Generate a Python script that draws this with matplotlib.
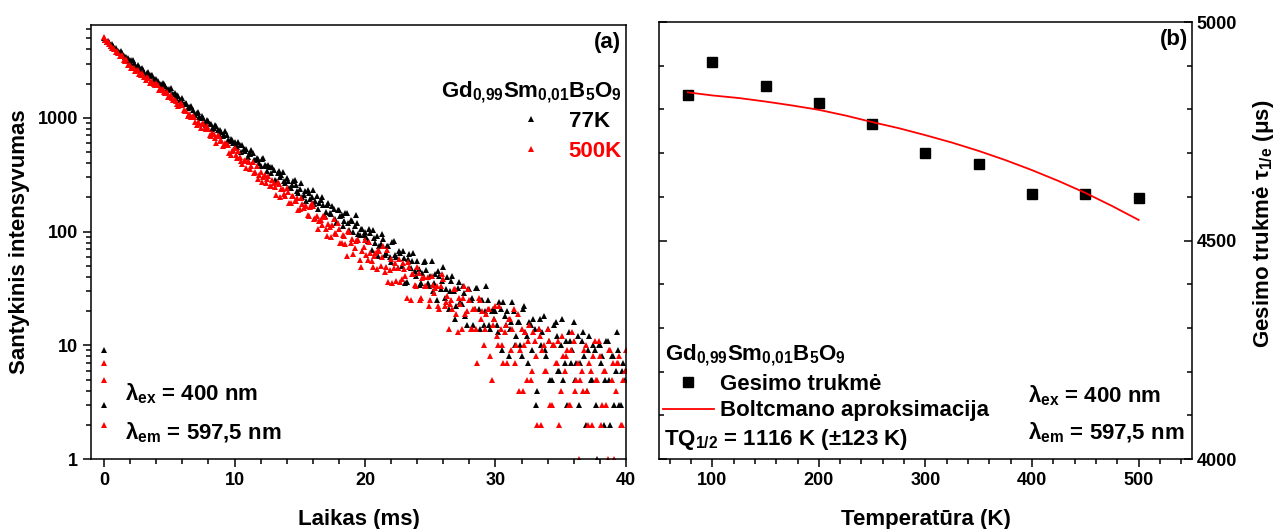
import numpy as np
import matplotlib
matplotlib.use('Agg')
import matplotlib.pyplot as plt
from matplotlib.ticker import MultipleLocator, LogLocator, NullFormatter

plt.rcParams['font.family'] = ['Liberation Sans', 'DejaVu Sans']
plt.rcParams['font.weight'] = 'bold'
plt.rcParams['axes.labelweight'] = 'bold'
plt.rcParams['mathtext.default'] = 'regular'
plt.rcParams['axes.linewidth'] = 1.1

# --- luminescence decay, one channel every 0.1 ms (rows of 1 ms) ---
dt = 0.1
counts_77 = [
    5024, 4836, 4681, 4763, 4612, 4307, 4457, 4255, 4111, 4110,
    3816, 3849, 3797, 3851, 3710, 3473, 3435, 3437, 3373, 3211,
    3110, 3242, 3204, 3009, 2943, 2805, 2891, 2827, 2673, 2740,
    2644, 2436, 2394, 2499, 2505, 2351, 2358, 2385, 2208, 2150,
    2204, 2115, 1987, 1963, 1985, 2024, 2001, 1908, 1798, 1756,
    1779, 1835, 1631, 1627, 1641, 1498, 1595, 1541, 1445, 1448,
    1498, 1323, 1328, 1360, 1212, 1242, 1254, 1260, 1165, 1060,
    1064, 1106, 1116, 1016, 991, 1036, 998, 910, 872, 951,
    937, 882, 875, 794, 814, 864, 853, 775, 724, 774,
    758, 688, 704, 765, 709, 641, 624, 648, 641, 606,
    613, 577, 554, 608, 582, 502, 581, 535, 510, 533,
    453, 482, 483, 521, 490, 424, 428, 445, 438, 397,
    379, 439, 441, 386, 376, 339, 384, 373, 330, 367,
    346, 283, 281, 329, 342, 299, 312, 332, 281, 270,
    298, 276, 241, 241, 258, 281, 282, 256, 226, 218,
    235, 266, 202, 211, 228, 184, 230, 218, 193, 203,
    232, 175, 184, 205, 158, 177, 190, 200, 171, 138,
    148, 170, 180, 147, 144, 167, 157, 128, 119, 155,
    154, 138, 139, 111, 124, 147, 147, 120, 103, 127,
    124, 100, 111, 139, 120, 96, 93, 105, 105, 94,
    100, 89, 82, 106, 98, 69, 103, 87, 79, 91,
    61, 75, 78, 96, 86, 62, 65, 75, 74, 60,
    54, 81, 83, 62, 60, 48, 68, 65, 50, 67,
    59, 35, 36, 57, 64, 48, 55, 65, 45, 41,
    55, 47, 34, 35, 43, 54, 55, 46, 35, 33,
    41, 55, 30, 35, 42, 25, 45, 41, 31, 37,
    49, 26, 31, 40, 21, 30, 37, 41, 30, 17,
    22, 32, 36, 24, 23, 33, 29, 18, 15, 31,
    31, 25, 26, 15, 21, 32, 32, 21, 14, 25,
    25, 15, 20, 33, 25, 15, 14, 20, 21, 17,
    20, 15, 13, 24, 21, 9, 24, 18, 15, 20,
    8, 14, 16, 24, 20, 10, 12, 16, 16, 10,
    8, 21, 22, 13, 12, 7, 16, 15, 9, 17,
    14, 3, 4, 14, 17, 10, 13, 18, 9, 8,
    14, 11, 5, 5, 10, 15, 16, 12, 6, 6,
    10, 17, 5, 7, 11, 3, 13, 11, 7, 9,
    16, 5, 7, 12, 3, 7, 11, 13, 8, 2,
    4, 9, 12, 5, 5, 10, 9, 3, 1, 10,
    10, 7, 8, 2, 5, 11, 11, 5, 2, 8,
    8, 3, 6, 13, 9, 3, 3, 6, 7, 5,
    6,
]
counts_500 = [
    5144, 4827, 4649, 4736, 4468, 4269, 4108, 4095, 4022, 3767,
    3844, 3752, 3514, 3508, 3536, 3222, 3182, 3260, 2927, 2926,
    2937, 2719, 2765, 2759, 2580, 2619, 2632, 2434, 2399, 2465,
    2378, 2294, 2146, 2307, 2233, 2024, 2105, 2075, 1982, 1934,
    2019, 1940, 1773, 1741, 1801, 1777, 1687, 1662, 1673, 1520,
    1510, 1592, 1508, 1444, 1436, 1417, 1311, 1279, 1332, 1363,
    1307, 1172, 1160, 1154, 1039, 1071, 1061, 1008, 1048, 1023,
    924, 867, 928, 898, 821, 883, 907, 807, 792, 846,
    795, 711, 699, 729, 714, 659, 602, 704, 688, 626,
    633, 560, 574, 596, 591, 581, 494, 467, 513, 519,
    543, 473, 447, 507, 453, 418, 394, 418, 422, 365,
    415, 409, 356, 376, 411, 327, 335, 381, 291, 312,
    334, 275, 303, 313, 267, 292, 308, 254, 253, 286,
    268, 249, 210, 274, 260, 200, 236, 235, 212, 205,
    242, 225, 178, 178, 207, 207, 186, 186, 198, 154,
    159, 196, 175, 162, 168, 169, 140, 137, 163, 180,
    168, 130, 132, 138, 106, 124, 127, 115, 136, 134,
    106, 91, 116, 110, 89, 114, 128, 97, 96, 119,
    105, 79, 80, 94, 92, 77, 61, 101, 99, 80,
    86, 63, 72, 83, 85, 84, 56, 49, 68, 73,
    85, 62, 56, 81, 65, 55, 49, 61, 65, 47,
    69, 68, 50, 60, 75, 44, 49, 69, 36, 46,
    57, 35, 48, 53, 37, 48, 57, 36, 38, 53,
    47, 41, 26, 54, 49, 25, 42, 42, 34, 33,
    49, 43, 25, 26, 39, 40, 33, 33, 40, 22,
    25, 41, 34, 29, 32, 33, 22, 21, 33, 42,
    38, 22, 24, 27, 14, 23, 25, 21, 31, 31,
    19, 13, 26, 23, 14, 26, 33, 19, 20, 31,
    25, 14, 14, 21, 21, 14, 7, 26, 25, 17,
    20, 10, 14, 19, 21, 21, 8, 5, 15, 17,
    22, 12, 10, 22, 14, 10, 7, 13, 15, 7,
    17, 17, 9, 14, 21, 7, 10, 19, 4, 9,
    14, 4, 10, 13, 5, 11, 15, 5, 6, 13,
    11, 8, 2, 14, 12, 2, 9, 10, 6, 6,
    14, 11, 3, 3, 10, 10, 7, 7, 11, 2,
    4, 12, 8, 6, 8, 9, 3, 3, 9, 13,
    11, 4, 5, 7, 1, 5, 6, 4, 9, 10,
    4, 2, 7, 6, 2, 8, 11, 5, 5, 11,
    8, 2, 3, 6, 6, 3, 1, 9, 9, 5,
    7, 1, 4, 7, 7, 8, 2, 2, 5, 6,
    9,
]
# background counts sitting at the trigger channel
pre_77 = [9, 3]
pre_500 = [7, 5, 2]

# --- decay time vs temperature ---
temps = [77, 100, 150, 200, 250, 300, 350, 400, 450, 500]
tau = [4834, 4908, 4854, 4815, 4766, 4701, 4675, 4606, 4606, 4597]
fit_t = [77, 100, 125, 150, 175, 200, 225, 250, 275, 300, 325, 350, 375, 400,
         425, 450, 475, 500]
fit_tau = [4839, 4832, 4826, 4818, 4809, 4799, 4786, 4771, 4757, 4741, 4724,
           4705, 4684, 4661, 4636, 4609, 4579, 4547]

formula = r'Gd$_{0{,}99}$Sm$_{0{,}01}$B$_5$O$_9$'
fs = 16
ms_tri = 4.2

fig = plt.figure(figsize=(12.78, 5.29), dpi=100)
ax1 = fig.add_axes([0.0712, 0.1323, 0.4186, 0.8204])
ax2 = fig.add_axes([0.5156, 0.1323, 0.4171, 0.8261])

# (a) decay curves
t77 = np.arange(len(counts_77)) * dt
t500 = np.arange(len(counts_500)) * dt
l77, = ax1.plot(t77, counts_77, '^', color='black', ms=ms_tri, mew=0, label='77K')
ax1.plot([0.0] * len(pre_77), pre_77, '^', color='black', ms=ms_tri, mew=0)
l500, = ax1.plot(t500, counts_500, '^', color='red', ms=ms_tri, mew=0, label='500K')
ax1.plot([0.0] * len(pre_500), pre_500, '^', color='red', ms=ms_tri, mew=0)

ax1.set_yscale('log')
ax1.set_xlim(-1, 40)
ax1.set_ylim(1, 6550)
ax1.xaxis.set_major_locator(MultipleLocator(10))
ax1.xaxis.set_minor_locator(MultipleLocator(2))
ax1.yaxis.set_minor_locator(LogLocator(base=10, subs=np.arange(2, 10), numticks=20))
ax1.yaxis.set_minor_formatter(NullFormatter())
ax1.set_yticks([1, 10, 100, 1000])
ax1.set_yticklabels(['1', '10', '100', '1000'])
ax1.tick_params(which='both', direction='out', top=False, right=False,
                labelsize=13, width=1.1)
ax1.tick_params(which='major', length=6)
ax1.tick_params(which='minor', length=3.5)
ax1.set_xlabel('Laikas (ms)', fontsize=fs, labelpad=14)
ax1.set_ylabel('Santykinis intensyvumas', fontsize=fs, labelpad=5)

ax1.text(0.99, 0.985, '(a)', transform=ax1.transAxes, ha='right', va='top',
         fontsize=fs)
ax1.text(0.9925, 0.834, formula, transform=ax1.transAxes, ha='right',
         va='baseline', fontsize=fs)
ax1.legend(handles=[l77, l500], loc='upper right', bbox_to_anchor=(0.9925, 0.802),
           frameon=False, fontsize=fs, labelcolor='linecolor', borderpad=0,
           labelspacing=0.4, handletextpad=0.6, handlelength=2.2,
           markerscale=0.9, borderaxespad=0)
ax1.text(0.064, 0.135, r'λ$_{ex}$ = 400 nm', transform=ax1.transAxes,
         fontsize=fs, va='baseline')
ax1.text(0.064, 0.046, r'λ$_{em}$ = 597,5 nm', transform=ax1.transAxes,
         fontsize=fs, va='baseline')

# (b) decay time vs temperature
pts, = ax2.plot(temps, tau, 's', color='black', ms=7.5, label='Gesimo trukmė')
fit, = ax2.plot(fit_t, fit_tau, '-', color='red', lw=1.3,
                label='Boltcmano aproksimacija')
ax2.set_xlim(50, 550)
ax2.set_ylim(4000, 5000)
ax2.xaxis.set_major_locator(MultipleLocator(100))
ax2.xaxis.set_minor_locator(MultipleLocator(20))
ax2.yaxis.set_major_locator(MultipleLocator(500))
ax2.yaxis.set_minor_locator(MultipleLocator(100))
ax2.yaxis.set_label_position('right')
ax2.tick_params(axis='x', which='both', direction='out', top=False,
                labelsize=13, width=1.1)
ax2.tick_params(axis='y', which='both', direction='in', left=True, right=True,
                labelleft=False, labelright=True, labelsize=13, width=1.1)
ax2.tick_params(which='major', length=6)
ax2.tick_params(which='minor', length=3.5)
ax2.set_xlabel('Temperatūra (K)', fontsize=fs, labelpad=14)
ax2.set_ylabel('Gesimo trukmė τ$_{1/e}$ (μs)', fontsize=fs, labelpad=10)
ax2.yaxis.label.set_y(0.538)

ax2.text(0.992, 0.985, '(b)', transform=ax2.transAxes, ha='right', va='top',
         fontsize=fs)
ax2.text(0.011, 0.2265, formula, transform=ax2.transAxes, va='baseline',
         fontsize=fs)
ax2.legend(handles=[pts, fit], loc='upper left', bbox_to_anchor=(0.007, 0.195),
           frameon=False, fontsize=fs, borderpad=0, labelspacing=0.25,
           handletextpad=0.3, handlelength=2.3, borderaxespad=0)
ax2.text(0.009, 0.033, r'TQ$_{1/2}$ = 1116 K ($\pm$123 K)',
         transform=ax2.transAxes, fontsize=fs, va='baseline')
ax2.text(0.692, 0.130, r'λ$_{ex}$ = 400 nm', transform=ax2.transAxes,
         fontsize=fs, va='baseline')
ax2.text(0.692, 0.044, r'λ$_{em}$ = 597,5 nm', transform=ax2.transAxes,
         fontsize=fs, va='baseline')

fig.savefig('out.png', dpi=100)
